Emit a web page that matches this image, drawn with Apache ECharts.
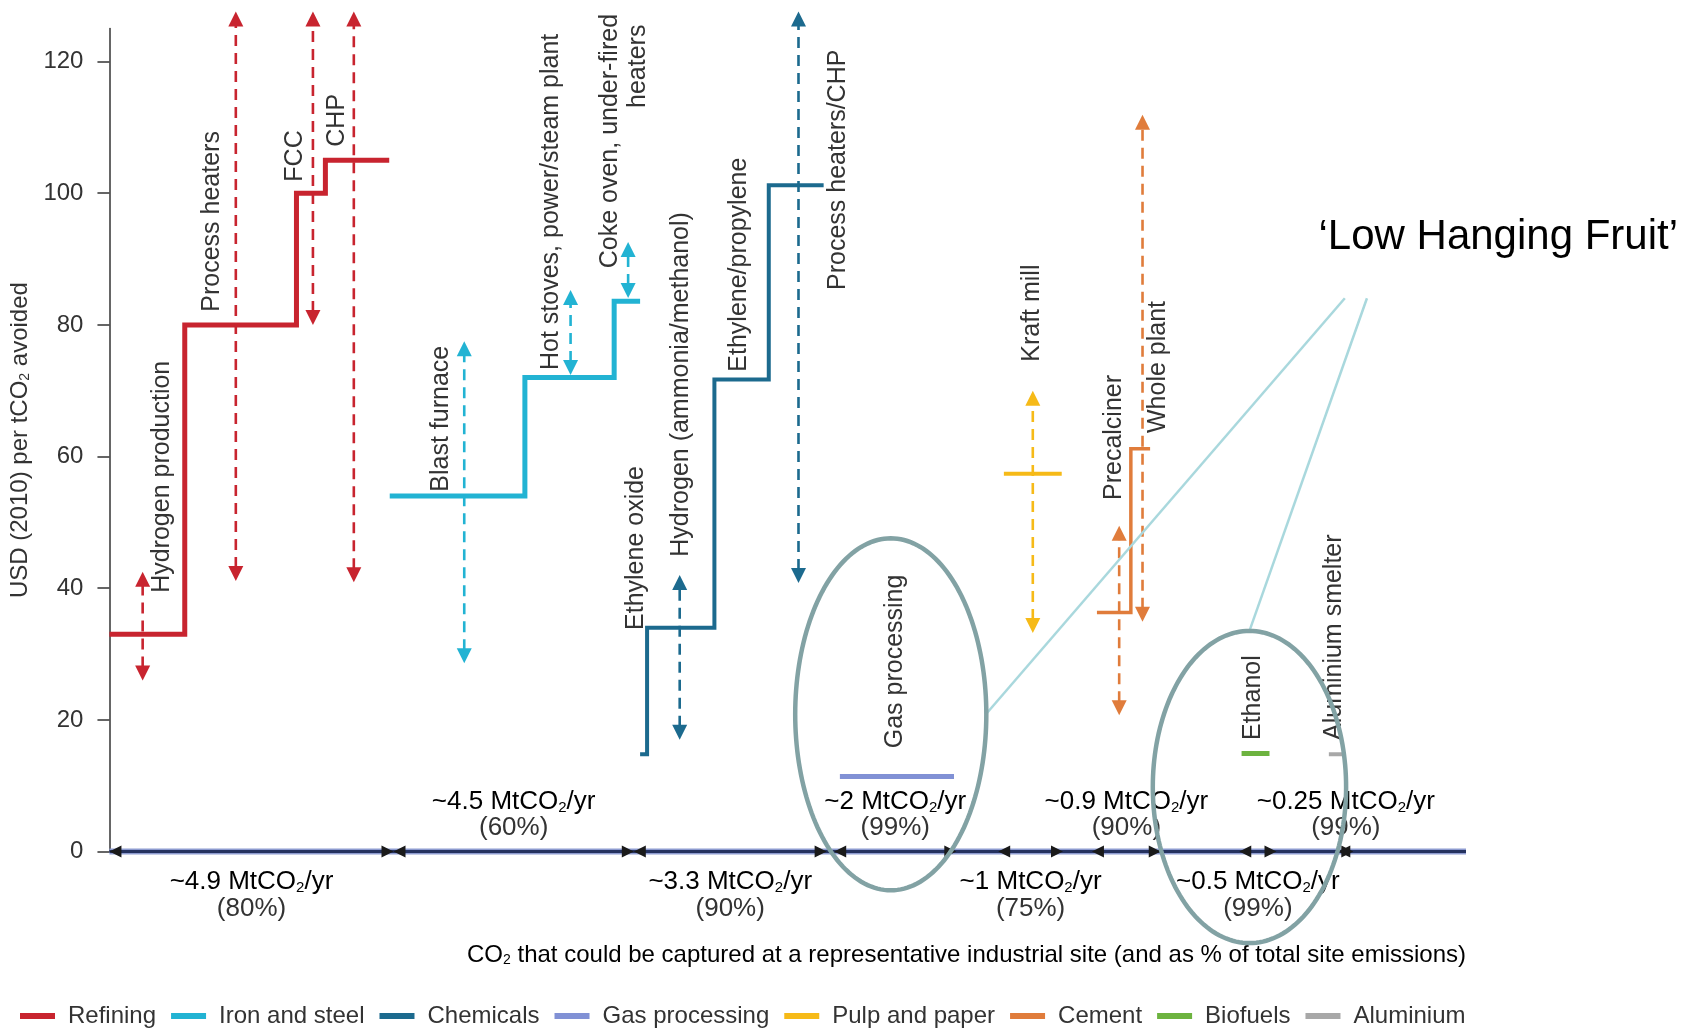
<!DOCTYPE html>
<html><head><meta charset="utf-8">
<script src="https://cdn.jsdelivr.net/npm/echarts@6/dist/echarts.min.js"></script>
<style>html,body{margin:0;padding:0;background:#fff}#c{width:1688px;height:1029px}</style>
</head><body><div id="c"></div>
<script>
// ---------------- DATA ----------------
const sectors = ['Refining','Iron and steel','Chemicals','Gas processing','Pulp and paper','Cement','Biofuels','Aluminium'];
const yTicks = [0, 20, 40, 60, 80, 100, 120];

// Step profiles: x breakpoints (layout units along the site axis) and cost level (USD/tCO2) per step
const refiningX = [0, 7.55, 18.75, 21.65, 28.05];
const refiningCost = [33, 80, 100, 105];
const ironX = [28.1, 41.65, 50.6, 53.2];
const ironCost = [54, 72, 83.6];
const chemX = [53.2, 53.9, 60.65, 66.1, 71.6];
const chemCost = [14.8, 34, 71.7, 101.2];
const gasX = [73.23, 84.67];
const gasCost = [11.4];
const pulpX = [89.67, 95.47];
const pulpCost = [57.4];
const cementX = [99.0, 102.4, 104.33];
const cementCost = [36.3, 61.2];
const biofuelX = [113.5, 116.3];
const biofuelCost = [14.9];
const aluX = [122.25, 123.9];
const aluCost = [14.8];

// Cost ranges (dashed double arrows): [x, low, high]
const refiningRanges = [[3.33, 26, 42.5], [12.67, 41.1, 127.6], [20.4, 80, 127.6], [24.5, 40.9, 127.6]];
const ironRanges = [[35.57, 28.6, 77.5], [46.23, 72.4, 85.3], [52.0, 84.1, 92.6]];
const chemRanges = [[57.17, 17, 42], [69.08, 40.8, 127.6]];
const gasRanges = [];
const pulpRanges = [[92.57, 33.2, 70]];
const cementRanges = [[101.23, 20.7, 49.5], [103.57, 34.9, 111.9]];
const biofuelRanges = [];
const aluRanges = [];

// Process labels: [x, value at text start, text]
const processLabels = [
  [5.3, 39.3, 'Hydrogen production'],
  [10.3, 82.0, 'Process heaters'],
  [18.65, 101.75, 'FCC'],
  [22.8, 107.06, 'CHP'],
  [33.3, 54.66, 'Blast furnace'],
  [44.3, 73.15, 'Hot stoves, power/steam plant'],
  [50.15, 88.6, 'Coke oven, under-fired'],
  [53.0, 112.94, 'heaters'],
  [52.8, 33.66, 'Ethylene oxide'],
  [57.3, 44.79, 'Hydrogen (ammonia/methanol)'],
  [63.15, 72.89, 'Ethylene/propylene'],
  [73.07, 85.3, 'Process heaters/CHP'],
  [78.8, 15.69, 'Gas processing'],
  [92.5, 74.4, 'Kraft mill'],
  [100.7, 53.4, 'Precalciner'],
  [105.15, 63.58, 'Whole plant'],
  [114.65, 16.95, 'Ethanol'],
  [122.8, 16.95, 'Aluminium smelter']
];

// CO2 captured per representative site: segment extents along the axis
const segStart = [0, 28.48, 52.57, 72.66, 89.1, 98.5, 113.27, 123.2];
const segEnd   = [28.48, 52.57, 71.9, 84.9, 95.6, 105.4, 117.0, 124.7];
const segAmount = ['~4.9', '~4.5', '~3.3', '~2', '~1', '~0.9', '~0.5', '~0.25'];
const segShare = ['80%', '60%', '90%', '99%', '75%', '90%', '99%', '99%'];

// Highlight ellipses: [cx, cy, rx, ry] in axis units
const highlightEllipses = [[78.33, 20.85, 9.58, 26.73], [114.29, 9.81, 9.69, 23.71]];
// Callout connectors: [x1, y1, x2, y2]
const calloutLines = [[123.85, 84.04, 87.91, 20.93], [126.07, 84.04, 114.29, 33.52]];
const calloutText = '\u2018Low Hanging Fruit\u2019';

// ---------------- STYLE ----------------
const FONT = '"Liberation Sans", Arial, sans-serif';
const TXT = '#333333';
const sectorColors = ['#c8242f', '#22b3d3', '#1c6a8e', '#8191d5', '#f6ba18', '#e07c3b', '#6db33f', '#a8a8a8'];
const sectorWidths = [5, 5, 4, 5, 4, 3.5, 5, 4];
const stepX = [refiningX, ironX, chemX, gasX, pulpX, cementX, biofuelX, aluX];
const stepCost = [refiningCost, ironCost, chemCost, gasCost, pulpCost, cementCost, biofuelCost, aluCost];
const rangeSets = [refiningRanges, ironRanges, chemRanges, gasRanges, pulpRanges, cementRanges, biofuelRanges, aluRanges];
const X_MIN = 0, X_MAX = 136;

function stepPoints(xs, cs) {
  const pts = [];
  cs.forEach((c, i) => { pts.push([xs[i], c]); pts.push([xs[i + 1], c]); });
  return pts;
}

const richBase = {
  a: { fontSize: 26, fontFamily: FONT, color: TXT },
  s: { fontSize: 15, fontFamily: FONT, color: TXT, padding: [12, 0, 0, 0] }
};

const series = [];
// step lines
sectors.forEach((name, i) => {
  series.push({
    type: 'line', name, data: stepPoints(stepX[i], stepCost[i]), symbol: 'none',
    color: sectorColors[i], itemStyle: { color: sectorColors[i] },
    lineStyle: { color: sectorColors[i], width: sectorWidths[i], join: 'miter', cap: 'butt' },
    z: 3, silent: true
  });
});
// range arrows
sectors.forEach((name, i) => {
  if (!rangeSets[i].length) return;
  series.push({
    type: 'custom', name, coordinateSystem: 'cartesian2d', clip: false, z: 4, silent: true,
    data: rangeSets[i],
    renderItem(params, api) {
      const x = api.value(0);
      const pLo = api.coord([x, api.value(1)]);
      const pHi = api.coord([x, api.value(2)]);
      const w = 7.5, h = 15, col = sectorColors[i];
      return { type: 'group', children: [
        { type: 'line', shape: { x1: pLo[0], y1: pLo[1] - h + 2, x2: pHi[0], y2: pHi[1] + h - 2 },
          style: { stroke: col, lineWidth: 2.6, lineDash: [11, 7] } },
        { type: 'polygon', shape: { points: [[pHi[0], pHi[1]], [pHi[0] - w, pHi[1] + h], [pHi[0] + w, pHi[1] + h]] }, style: { fill: col } },
        { type: 'polygon', shape: { points: [[pLo[0], pLo[1]], [pLo[0] - w, pLo[1] - h], [pLo[0] + w, pLo[1] - h]] }, style: { fill: col } }
      ]};
    }
  });
});
// process labels
series.push({
  type: 'custom', name: 'labels', coordinateSystem: 'cartesian2d', clip: false, z: 5, silent: true,
  data: processLabels.map(r => [r[0], r[1]]),
  renderItem(params, api) {
    const p = api.coord([api.value(0), api.value(1)]);
    return { type: 'text', x: p[0], y: p[1], rotation: Math.PI / 2,
      style: { text: processLabels[params.dataIndex][2], fill: TXT, fontSize: 25, fontFamily: FONT, align: 'left', verticalAlign: 'middle' } };
  }
});
// baseline axis bar
series.push({
  type: 'custom', name: 'baseline', coordinateSystem: 'cartesian2d', clip: false, z: 6, silent: true,
  data: [[X_MIN, X_MAX]],
  renderItem(params, api) {
    const a = api.coord([api.value(0), 0]), b = api.coord([api.value(1), 0]);
    return { type: 'group', children: [
      { type: 'line', shape: { x1: a[0], y1: a[1], x2: b[0], y2: b[1] }, style: { stroke: '#8d9bd0', lineWidth: 6 } },
      { type: 'line', shape: { x1: a[0], y1: a[1], x2: b[0], y2: b[1] }, style: { stroke: '#25325f', lineWidth: 3 } }
    ]};
  }
});
// segments along the axis
series.push({
  type: 'custom', name: 'segments', coordinateSystem: 'cartesian2d', clip: false, z: 7, silent: true,
  data: segStart.map((s, i) => [s, segEnd[i]]),
  renderItem(params, api) {
    const i = params.dataIndex;
    const a = api.coord([api.value(0), 0]), b = api.coord([api.value(1), 0]);
    const y = a[1], w = 12, h = 6, mid = (a[0] + b[0]) / 2;
    const below = i % 2 === 0;
    const o1 = below ? 30 : -50, o2 = below ? 57 : -24;
    return { type: 'group', children: [
      { type: 'polygon', shape: { points: [[a[0], y], [a[0] + w, y - h], [a[0] + w, y + h]] }, style: { fill: '#1a1a1a' } },
      { type: 'polygon', shape: { points: [[b[0], y], [b[0] - w, y - h], [b[0] - w, y + h]] }, style: { fill: '#1a1a1a' } },
      { type: 'text', x: mid, y: y + o1, style: { text: '{a|' + segAmount[i] + ' MtCO}{s|2}{a|/yr}', rich: richBase, align: 'center', verticalAlign: 'middle' } },
      { type: 'text', x: mid, y: y + o2, style: { text: '(' + segShare[i] + ')', fill: TXT, fontSize: 26, fontFamily: FONT, align: 'center', verticalAlign: 'middle' } }
    ]};
  }
});
// highlight ellipses
series.push({
  type: 'custom', name: 'highlights', coordinateSystem: 'cartesian2d', clip: false, z: 9, silent: true,
  data: highlightEllipses,
  renderItem(params, api) {
    const c = api.coord([api.value(0), api.value(1)]);
    const s = api.size([api.value(2), api.value(3)]);
    const pts = [];
    for (let k = 0; k < 180; k++) {
      const t = k / 180 * Math.PI * 2;
      pts.push([c[0] + s[0] * Math.cos(t), c[1] + s[1] * Math.sin(t)]);
    }
    return { type: 'polygon', shape: { points: pts }, style: { fill: null, stroke: '#82a2a4', lineWidth: 4.5 } };
  }
});
// callout connectors
series.push({
  type: 'custom', name: 'callout', coordinateSystem: 'cartesian2d', clip: false, z: 8, silent: true,
  data: calloutLines,
  renderItem(params, api) {
    const p1 = api.coord([api.value(0), api.value(1)]), p2 = api.coord([api.value(2), api.value(3)]);
    return { type: 'line', shape: { x1: p1[0], y1: p1[1], x2: p2[0], y2: p2[1] }, style: { stroke: '#a9d8dd', lineWidth: 2.5 } };
  }
});

const option = {
  animation: false,
  backgroundColor: '#ffffff',
  grid: { left: 106, width: 1360, top: 28.6, height: 823 },
  xAxis: { type: 'value', min: X_MIN, max: X_MAX, show: false },
  yAxis: {
    type: 'value', min: 0, max: 125, interval: 20,
    name: '{a|USD (2010) per tCO}{s|2}{a| avoided}', nameLocation: 'middle', nameGap: 56, nameRotate: 90,
    nameTextStyle: { rich: { a: { fontSize: 24, fontFamily: FONT, color: TXT }, s: { fontSize: 14, fontFamily: FONT, color: TXT, padding: [11, 0, 0, 0] } } },
    axisLine: { show: true, lineStyle: { color: '#333', width: 1.5 } },
    axisTick: { show: true, length: 12, lineStyle: { color: '#333', width: 1.5 }, customValues: yTicks },
    axisLabel: { fontSize: 24, fontFamily: FONT, color: TXT, margin: 26, customValues: yTicks },
    splitLine: { show: false }
  },
  legend: {
    data: sectors, left: 15, top: 999, icon: 'rect', itemWidth: 35, itemHeight: 6, itemGap: 15,
    selectedMode: false,
    textStyle: { fontSize: 24, fontFamily: FONT, color: TXT, padding: [0, 0, 0, 8] }
  },
  graphic: [
    { type: 'text', x: 1466, y: 955, silent: true,
      style: { text: '{a|CO}{s|2}{a| that could be captured at a representative industrial site (and as % of total site emissions)}',
        rich: { a: { fontSize: 24, fontFamily: FONT, color: TXT }, s: { fontSize: 14, fontFamily: FONT, color: TXT, padding: [11, 0, 0, 0] } },
        align: 'right', verticalAlign: 'middle' } },
    { type: 'text', x: 1678, y: 237, silent: true,
      style: { text: calloutText, fontSize: 42, fontFamily: FONT, fill: '#000', align: 'right', verticalAlign: 'middle' } }
  ],
  series
};

const chart = echarts.init(document.getElementById('c'), null, { renderer: 'canvas' });
chart.setOption(option);
</script>
</body></html>
